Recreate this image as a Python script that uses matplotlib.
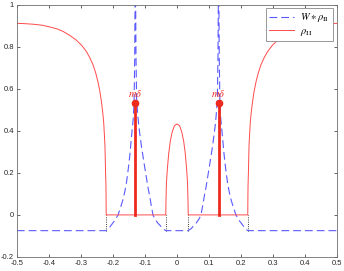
import numpy as np
import matplotlib
matplotlib.use('Agg')
import matplotlib.pyplot as plt

plt.rcParams['font.family'] = ['Liberation Sans', 'DejaVu Sans']
plt.rcParams['mathtext.fontset'] = 'stix'

# rho_II, left half (x <= 0); chart is symmetric
rho_x = [-0.5, -0.48, -0.45, -0.42, -0.40, -0.375, -0.355, -0.335, -0.315,
         -0.298, -0.283, -0.272, -0.262, -0.254, -0.247, -0.241, -0.236,
         -0.232, -0.229, -0.227, -0.225, -0.224, -0.223, -0.222, -0.2215,
         -0.221, -0.035, -0.0345, -0.033, -0.030, -0.026, -0.021, -0.015,
         -0.008, 0.0]
rho_y = [0.912, 0.911, 0.908, 0.903, 0.896, 0.886, 0.873, 0.855, 0.833,
         0.808, 0.778, 0.748, 0.714, 0.677, 0.635, 0.59, 0.54,
         0.49, 0.444, 0.39, 0.333, 0.27, 0.2, 0.15, 0.1,
         0.0, 0.0, 0.06, 0.15, 0.22, 0.29, 0.35, 0.395,
         0.425, 0.433]

# W * rho_II, left half
w_x = [-0.5, -0.221, -0.217, -0.213, -0.209, -0.205, -0.200, -0.195, -0.190,
       -0.184, -0.177, -0.169, -0.163, -0.158, -0.154, -0.150, -0.146,
       -0.143, -0.140, -0.137, -0.134, -0.132, -0.131, -0.130, -0.129,
       -0.128, -0.126, -0.124, -0.122, -0.119, -0.115, -0.111, -0.106,
       -0.101, -0.096, -0.091, -0.085, -0.080, -0.075, -0.070, -0.065,
       -0.060, -0.054, -0.049, -0.045, -0.040, -0.035, 0.0]
w_y = [-0.075, -0.075, -0.070, -0.064, -0.057, -0.048, -0.038, -0.028, -0.016,
       0.0, 0.032, 0.071, 0.110, 0.151, 0.196, 0.246, 0.303,
       0.357, 0.405, 0.452, 0.532, 0.75, 1.0, 1.4, 1.0,
       0.75, 0.548, 0.505, 0.468, 0.421, 0.373, 0.326, 0.278,
       0.229, 0.182, 0.135, 0.087, 0.042, 0.0, -0.016, -0.028,
       -0.039, -0.048, -0.057, -0.064, -0.070, -0.075, -0.075]

# point masses m*delta
delta_x = [-0.13, 0.13]
delta_m = [0.532, 0.532]

# support edges (dotted lines)
edges = [-0.221, -0.035, 0.035, 0.221]
w_floor = -0.075

rx = np.array(rho_x)
ry = np.array(rho_y)
rho_full_x = np.concatenate([rx, -rx[::-1][1:]])
rho_full_y = np.concatenate([ry, ry[::-1][1:]])
wx = np.array(w_x)
wy = np.array(w_y)
w_full_x = np.concatenate([wx, -wx[::-1][1:]])
w_full_y = np.concatenate([wy, wy[::-1][1:]])

fig = plt.figure(figsize=(3.44, 2.71), dpi=100)
ax = fig.add_axes([0.049, 0.052, 0.931, 0.930])

for e in edges:
    ax.plot([e, e], [w_floor, 0], ls=':', color='k', lw=0.6)

ax.plot(w_full_x, w_full_y, color='#5a5aff', lw=0.8, dashes=(7, 3.6),
        label=r'$W\ast\rho_{\rm II}$')
ax.plot(rho_full_x, rho_full_y, color='#ff4a4a', lw=0.7, label=r'$\rho_{\rm II}$')

for dx, m in zip(delta_x, delta_m):
    ax.plot([dx, dx], [0, m], color='#ee2a1e', lw=2.0)
    ax.plot(dx, m, 'o', color='#ee2a1e', ms=4.5)
    ax.text(dx, m + 0.018, r'$m\delta$', color='#ee2a1e', fontsize=7.5,
            ha='center', va='bottom')

ax.set_xlim(-0.5, 0.5)
ax.set_ylim(-0.2, 1.0)
ax.set_xticks(np.arange(-0.5, 0.51, 0.1))
ax.set_xticklabels(['-0.5', '-0.4', '-0.3', '-0.2', '-0.1', '0', '0.1', '0.2', '0.3', '0.4', '0.5'])
ax.set_yticks(np.arange(-0.2, 1.01, 0.2))
ax.set_yticklabels(['-0.2', '0', '0.2', '0.4', '0.6', '0.8', '1'])
ax.tick_params(direction='in', length=2.5, width=0.5, labelsize=5.5,
               colors='#262626', top=True, right=True, pad=2)
for s in ax.spines.values():
    s.set_color('#6e6e6e')
    s.set_linewidth(0.6)

leg = ax.legend(loc='upper right', bbox_to_anchor=(0.986, 0.987), fontsize=7.5,
                fancybox=False, framealpha=1, edgecolor='#888888',
                handlelength=2.4, borderpad=0.3, labelspacing=0.15,
                handletextpad=0.6, borderaxespad=0)
leg.get_frame().set_linewidth(0.6)

fig.savefig('out.png', dpi=100)
